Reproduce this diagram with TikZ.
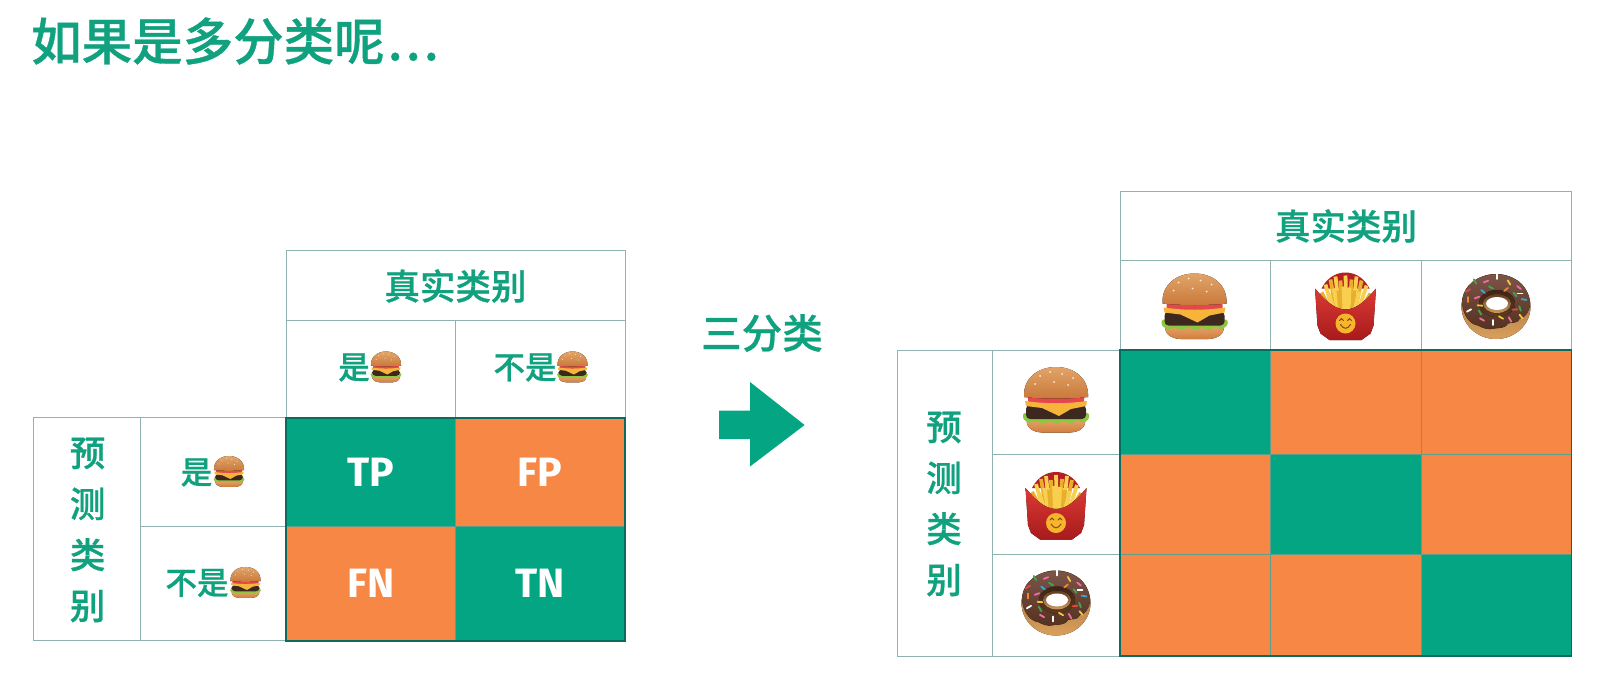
\documentclass[tikz,border=0pt]{standalone}
\usepackage{fontspec}
\newfontfamily\cjkfam[FakeBold=0.7]{Noto Sans CJK SC Medium}
\newfontfamily\latfam{Fira Sans}
\definecolor{tealc}{HTML}{04A582}
\definecolor{orangec}{HTML}{F68745}
\definecolor{textc}{HTML}{10A17F}
\definecolor{gridc}{HTML}{8FB3B0}
\definecolor{innerc}{HTML}{5E9E8A}
\definecolor{edgec}{HTML}{0B6B5E}
\definecolor{buna}{HTML}{E2A468}
\definecolor{bunb}{HTML}{C9783A}
\definecolor{bunc}{HTML}{EBA56E}
\definecolor{bund}{HTML}{CF7F3E}
\definecolor{cheese}{HTML}{F6B53A}
\definecolor{tomato}{HTML}{E4474D}
\definecolor{patty}{HTML}{3D281F}
\definecolor{lettuce}{HTML}{8CC83F}
\definecolor{friea}{HTML}{F8CF4E}
\definecolor{frieb}{HTML}{E9AE2C}
\definecolor{boxa}{HTML}{DB3A35}
\definecolor{boxb}{HTML}{B4201F}
\definecolor{boxc}{HTML}{A81A1C}
\definecolor{smile}{HTML}{F7B52B}
\definecolor{smiled}{HTML}{8A4B12}
\definecolor{doa}{HTML}{9A6436}
\definecolor{dob}{HTML}{D9A05C}
\definecolor{choca}{HTML}{7C5548}
\definecolor{chocb}{HTML}{53301F}
\definecolor{rim}{HTML}{5F3A20}
\definecolor{rimt}{HTML}{3F2417}
\definecolor{rimb}{HTML}{D09A60}
\definecolor{spa}{HTML}{E0483F}
\definecolor{spb}{HTML}{3FA650}
\definecolor{spc}{HTML}{F3C63A}
\definecolor{spd}{HTML}{F06FA0}
\definecolor{spe}{HTML}{3BA7D9}
\definecolor{spf}{HTML}{F08A30}
\newcommand{\cellat}[6]{% name,x0,y0,x1,y1,style
  \pgfmathsetmacro{\cx}{(#2+#4)/2}\pgfmathsetmacro{\cy}{(#3+#5)/2}
  \pgfmathsetmacro{\cw}{#4-#2}\pgfmathsetmacro{\ch}{#5-#3}
  \node[#6,minimum width=\cw pt,minimum height=\ch pt] (#1) at (\cx,\cy) {};}
\tikzset{
  blank/.style={draw=gridc,line width=.9pt,inner sep=0pt,outer sep=0pt,fill=white},
  good/.style={draw=innerc,line width=.6pt,inner sep=0pt,outer sep=0pt,fill=tealc},
  bad/.style={draw=innerc,line width=.6pt,inner sep=0pt,outer sep=0pt,fill=orangec},
  head/.style={text=textc,inner sep=0pt,font=\cjkfam\fontsize{35.5}{35.5}\selectfont},
  sidehead/.style={text=textc,inner sep=0pt,align=center,font=\cjkfam\fontsize{35.5}{51}\selectfont},
  small/.style={text=textc,inner sep=0pt,font=\cjkfam\fontsize{31.5}{31.5}\selectfont},
  letter/.style={text=white,inner sep=0pt,font=\latfam\bfseries\fontsize{41}{41}\selectfont},
  burger/.pic={
    \fill[bottom color=bund,top color=bunc] (-29,18) -- (29,18) .. controls (31,27) and (24,32) .. (14,32.5) -- (-14,32.5) .. controls (-24,32) and (-31,27) .. (-29,18) -- cycle;
    \fill[lettuce,rounded corners=1.5pt] (-33,13) -- (33,13) -- (33,19) -- (27,23) -- (21,20) -- (15,24) -- (8,21) -- (1,24) -- (-6,21) -- (-13,24) -- (-20,21) -- (-27,23) -- (-33,19) -- cycle;
    \fill[patty,rounded corners=4pt] (-30,5) rectangle (30,19);
    \fill[tomato,rounded corners=2pt] (-28,-4) rectangle (28,4);
    \fill[cheese] (-31,1) .. controls (-10,4) and (10,4) .. (31,1) -- (30,6) -- (15,9) -- (3,16) -- (-14,8) -- (-30,6) -- cycle;
    \fill[top color=buna,bottom color=bunb] (-32,-3) .. controls (-33,-22) and (-18,-33) .. (0,-33) .. controls (18,-33) and (33,-22) .. (32,-3) .. controls (15,-1) and (-15,-1) .. (-32,-3) -- cycle;
    \foreach \p in {(-16,-24),(-6,-28),(6,-26),(17,-22),(-21,-16),(-2,-18),(12,-15)}
      \fill[white!80!buna] \p circle (1);
  },
  fries/.pic={
    \fill[boxb] (-24,-18) .. controls (-18,-30) and (-8,-34) .. (0,-34) .. controls (8,-34) and (18,-30) .. (24,-18) -- cycle;
    \foreach \xa/\xb/\ya/\co in {-24/-13/-14/frieb,-20/-12/-22/friea,-15/-9/-27/frieb,-10/-6/-30/friea,-5/-4/-26/frieb,0/1/-31/friea,6/4/-27/frieb,11/7/-30/friea,16/9/-26/frieb,21/12/-21/friea,25/13/-13/frieb,-17/-10/-13/friea,-12/-7/-18/friea,-7/-5/-16/frieb,-2/-1/-20/friea,4/3/-19/friea,9/6/-16/frieb,14/8/-15/friea}
      \draw[line width=3.8pt,\co] (\xa,\ya) -- (\xb,7);
    \fill[top color=boxa,bottom color=boxc] (-30.5,-18) .. controls (-22,-8) and (-12,3) .. (0,3) .. controls (12,3) and (22,-8) .. (30.5,-18) -- (28,19) -- (25,27) -- (16,33.5) -- (-16,33.5) -- (-25,27) -- (-28,19) -- cycle;
    \fill[smile] (0,17) circle (10);
    \draw[line width=1pt,smiled,line cap=round] (-6,14) .. controls (-5,11.5) and (-3,11.5) .. (-2,14) (2,14) .. controls (3,11.5) and (5,11.5) .. (6,14);
    \draw[line width=1pt,smiled,line cap=round] (-5,18) .. controls (-2,23) and (2,23) .. (5,18);
  },
  donut/.pic={
    \fill[bottom color=dob,top color=doa] (0,0) ellipse (34.5 and 32.5);
    \fill[top color=choca,bottom color=chocb] (-34,-4) .. controls (-33,-22) and (-18,-32) .. (0,-32) .. controls (18,-32) and (33,-22) .. (34,-2) .. controls (33,6) and (29,11) .. (24,12) .. controls (21,18) and (16,15) .. (12,17) .. controls (8,23) and (2,21) .. (-2,22) .. controls (-8,24) and (-14,21) .. (-18,19) .. controls (-26,18) and (-33,9) .. (-34,-4) -- cycle;
    \fill[top color=rimt,bottom color=rim] (1,-3) ellipse (18 and 13.5);
    \fill[top color=rim,bottom color=rimb] (1,-3) ellipse (14 and 9.5);
    \fill[white] (1,-3) ellipse (11 and 6.5);
    \foreach \xa/\ya/\ro/\co in {-28/-16/-30/spa,-21/-25/60/spb,-10/-25/-20/spd,1/-30/90/white,13/-24/60/spc,23/-19/40/spd,24/-13/0/white,-28/-7/90/spf,-19/-9/-20/spd,-13/-15/40/spe,-5/-19/30/spb,10/-17/-40/spf,19/-12/50/spb,28/-7/10/spe,-16/-1/5/spc,-16/6/60/spb,-27/4/-30/white,-14/13/30/spd,5/11/30/spc,19/3/-5/spa,24/2/70/spb,14/13/60/spd,25/10/50/spc,-3/16/90/white}
      \draw[line width=1.8pt,\co,line cap=round] (\xa,\ya) ++(\ro:2.4) -- ++(\ro+180:4.8);
  }
}
\begin{document}
\begin{tikzpicture}[x=1pt,y=-1pt]
\useasboundingbox (0,0) rectangle (1597,688);
\node[anchor=west,inner sep=0pt,text=textc,font=\cjkfam\fontsize{50.5}{50.5}\selectfont] (title) at (31,41) {如果是多分类呢\kern3pt.\kern3pt.\kern3pt.};
% left table
\cellat{lhead}{286}{250.5}{625}{320}{blank}
\cellat{lyes}{286}{320}{455}{417.6}{blank}
\cellat{lno}{455}{320}{625}{417.6}{blank}
\cellat{lside}{33.6}{417.6}{140.5}{640.6}{blank}
\cellat{lpy}{140.5}{417.6}{286}{526.5}{blank}
\cellat{lpn}{140.5}{526.5}{286}{640.6}{blank}
\cellat{ltp}{286}{417.6}{455}{526.5}{good}
\cellat{lfp}{455}{417.6}{625}{526.5}{bad}
\cellat{lfn}{286}{526.5}{455}{640.6}{bad}
\cellat{ltn}{455}{526.5}{625}{640.6}{good}
\draw[edgec,line width=1.8pt] (ltp.north west) rectangle (ltn.south east);
\node[head] (lheadt) at (455.5,286) {真实类别};
\node[sidehead] (lsidet) at (87.6,530) {预\\测\\类\\别};
\node[small] (t1) at (354,367.5) {是};
\node[small] (t2) at (525,367.5) {不是};
\node[small] (t3) at (196.5,472.5) {是};
\node[small] (t4) at (197,583) {不是};
\pic[scale=.47] at (386,367) {burger};
\pic[scale=.47] at (572.5,367) {burger};
\pic[scale=.47] at (229,471.5) {burger};
\pic[scale=.47] at (245.5,582.5) {burger};
\node[letter] (tp) at (371,472) {TP};
\node[letter] (fp) at (540,472) {FP};
\node[letter] (fn) at (371,583) {FN};
\node[letter] (tn) at (540,583) {TN};
% arrow
\node[inner sep=0pt,text=textc,font=\cjkfam\fontsize{40.5}{40.5}\selectfont] (three) at (762,333) {三分类};
\fill[tealc] (719,410.5) -- (750,410.5) -- (750,382) -- (804.6,425) -- (750,466.5) -- (750,439) -- (719,439) -- cycle;
% right table
\cellat{rhead}{1120}{191.5}{1571.5}{260}{blank}
\cellat{ra}{1120}{260}{1270}{350}{blank}
\cellat{rb}{1270}{260}{1421}{350}{blank}
\cellat{rc}{1421}{260}{1571.5}{350}{blank}
\cellat{rside}{897}{350}{992}{656}{blank}
\cellat{rd}{992}{350}{1120}{454}{blank}
\cellat{re}{992}{454}{1120}{554}{blank}
\cellat{rf}{992}{554}{1120}{656}{blank}
\cellat{m11}{1120}{350}{1270}{454}{good}
\cellat{m12}{1270}{350}{1421}{454}{bad}
\cellat{m13}{1421}{350}{1571.5}{454}{bad}
\cellat{m21}{1120}{454}{1270}{554}{bad}
\cellat{m22}{1270}{454}{1421}{554}{good}
\cellat{m23}{1421}{454}{1571.5}{554}{bad}
\cellat{m31}{1120}{554}{1270}{656}{bad}
\cellat{m32}{1270}{554}{1421}{656}{bad}
\cellat{m33}{1421}{554}{1571.5}{656}{good}
\draw[edgec,line width=1.8pt] (m11.north west) rectangle (m33.south east);
\node[head] (rheadt) at (1346,226) {真实类别};
\node[sidehead] (rsidet) at (944,504) {预\\测\\类\\别};
\pic at (1194.5,306.5) {burger};
\pic at (1345.5,306.5) {fries};
\pic at (1496,306.5) {donut};
\pic at (1056,400) {burger};
\pic at (1056,506) {fries};
\pic at (1056,603) {donut};
\end{tikzpicture}
\end{document}
